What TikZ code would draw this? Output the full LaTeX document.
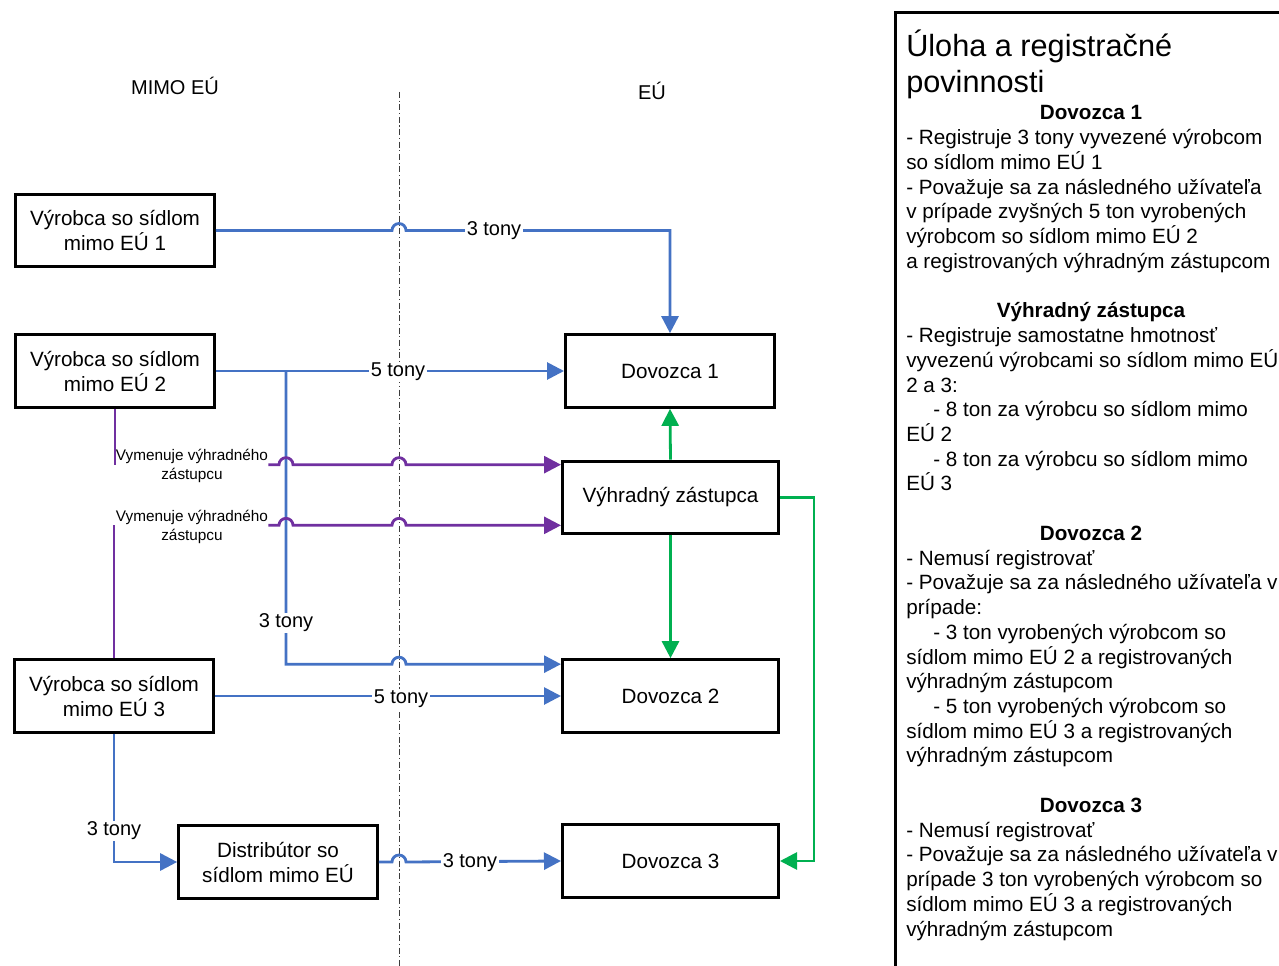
\documentclass[tikz,border=0pt]{standalone}
\usepackage{fontspec}
\setmainfont{Liberation Sans}
\usetikzlibrary{arrows.meta,calc}

\definecolor{flowblue}{RGB}{68,114,196}
\definecolor{flowpurple}{RGB}{112,48,160}
\definecolor{flowgreen}{RGB}{0,176,80}
\definecolor{divgray}{RGB}{60,60,60}

\tikzset{
  box/.style={draw=black, line width=2.25pt, fill=white, align=center, inner sep=0pt,
              minimum height=54.5pt, font=\fontsize{15.5}{18.75}\selectfont},
  leftbox/.style={box, minimum width=149pt},
  rightbox/.style={box, minimum width=162pt},
  tip/.style={-{Triangle[length=12.75pt,width=12.75pt]}},
  blueflow/.style={draw=flowblue, line width=2.1pt},
  purpleflow/.style={draw=flowpurple, line width=2.1pt},
  greenflow/.style={draw=flowgreen, line width=2.1pt},
  divider/.style={draw=divgray, line width=0.75pt, dash pattern=on 4.5pt off 2pt on 0.8pt off 2pt},
  tlabel/.style={fill=white, inner sep=1pt, font=\fontsize{15}{18}\selectfont},
  plabel/.style={inner sep=0pt, align=center, font=\fontsize{11.5}{14.25}\selectfont},
  region/.style={font=\fontsize{15}{18}\selectfont},
  body/.style={anchor=base west, inner sep=0pt, font=\fontsize{15.5}{18.5}\selectfont},
  head/.style={anchor=base, inner sep=0pt, font=\fontsize{15.5}{18.5}\selectfont\bfseries},
  title/.style={anchor=base west, inner sep=0pt, font=\fontsize{23}{27.75}\selectfont},
}

\begin{document}
\begin{tikzpicture}[x=0.75pt,y=-0.75pt]
  \fill[white] (0,0) rectangle (1279,966);
  \useasboundingbox (0,0) rectangle (1279,966);

  % region titles and the border between them
  \node[region] (mimo) at (175,86) {MIMO EÚ};
  \node[region] (eu) at (652,91) {EÚ};
  \coordinate (dl) at (399,92);
  \coordinate (dlend) at (399,966);
  \draw[divider] (dl) -- (dlend);

  % actors
  \node[leftbox] (v1) at (115,230.5) {Výrobca so sídlom\\mimo EÚ 1};
  \node[leftbox] (v2) at (115,371) {Výrobca so sídlom\\mimo EÚ 2};
  \node[leftbox] (v3) at (114,696) {Výrobca so sídlom\\mimo EÚ 3};
  \node[leftbox] (dist) at (278,862) {Distribútor so\\sídlom mimo EÚ};
  \node[box, minimum width=156.75pt] (d1) at (670,371) {Dovozca 1};
  \node[rightbox] (vz) at (670.5,497.5) {Výhradný zástupca};
  \node[rightbox] (d2) at (670.5,696) {Dovozca 2};
  \node[rightbox] (d3) at (670.5,861) {Dovozca 3};

  % helper points
  \coordinate (j) at (286,371);
  \coordinate (d2in) at ($(d2.north west)+(0,6)$);
  \coordinate (pa) at ($(vz.north west)+(0,5)$);
  \coordinate (pb) at ($(vz.south west)+(0,-10)$);
  \coordinate (gx) at (814,0);

  % blue flows of tonnage
  \draw[blueflow, tip] (v1.east) -- ($(dl |- v1.east)+(-7,0)$)
      arc[start angle=180,end angle=0,radius=5.25pt]
      -- (v1.east -| d1.north) -- (d1.north);
  \draw[blueflow, tip] (v2.east) -- (d1.west);
  \draw[blueflow, tip] (j) -- (j |- d2in) -- ($(dl |- d2in)+(-7,0)$)
      arc[start angle=180,end angle=0,radius=5.25pt] -- (d2in);
  \draw[blueflow, tip] (v3.east) -- (d2.west);
  \draw[blueflow, tip] (v3.south) |- (dist.west);
  \draw[blueflow, tip] (dist.east) -- ($(dl |- dist.east)+(-7,0)$)
      arc[start angle=180,end angle=0,radius=5.25pt] -- (d3.west);

  \node[tlabel] (t1) at (494,231) {3 tony};
  \node[tlabel] (t2) at (398,372) {5 tony};
  \node[tlabel] (t3) at (286,623) {3 tony};
  \node[tlabel] (t4) at (401,699) {5 tony};
  \node[tlabel] (t5) at (114,831) {3 tony};
  \node[tlabel] (t6) at (470,863) {3 tony};

  % purple appointments of the only representative
  \node[plabel] (lab1) at (192,466) {Vymenuje výhradného\\zástupcu};
  \node[plabel] (lab2) at (192,527) {Vymenuje výhradného\\zástupcu};
  \draw[purpleflow] (v2.south) -- (v2.south |- pa);
  \draw[purpleflow, tip] (lab1.east |- pa) -- ($(j |- pa)+(-7,0)$)
      arc[start angle=180,end angle=0,radius=5.25pt]
      -- ($(dl |- pa)+(-7,0)$)
      arc[start angle=180,end angle=0,radius=5.25pt] -- (pa);
  \draw[purpleflow] (v3.north) -- (v3.north |- pb);
  \draw[purpleflow, tip] (lab2.east |- pb) -- ($(j |- pb)+(-7,0)$)
      arc[start angle=180,end angle=0,radius=5.25pt]
      -- ($(dl |- pb)+(-7,0)$)
      arc[start angle=180,end angle=0,radius=5.25pt] -- (pb);

  % green registrations
  \draw[greenflow, tip] (vz.north) -- (d1.south);
  \draw[greenflow, tip] (vz.south) -- (d2.north);
  \draw[greenflow, tip] (vz.east) -- (vz.east -| gx) -- (gx |- d3.east) -- (d3.east);

  % side panel with duties
  \draw[line width=2.25pt] (895.5,966) -- (895.5,12.5) -- (1279,12.5);
  \node[title] (ttl1) at (906,57) {Úloha a registračné};
  \node[title] (ttl2) at (906,93) {povinnosti};

  \node[head] (h1) at (1091,120) {Dovozca 1};
  \node[head] (h2) at (1091,317.8) {Výhradný zástupca};
  \node[head] (h3) at (1091,540.4) {Dovozca 2};
  \node[head] (h4) at (1091,812.4) {Dovozca 3};

  \foreach \i/\t in {
    1/{- Registruje 3 tony vyvezené výrobcom},
    2/{so sídlom mimo EÚ 1},
    3/{- Považuje sa za následného užívateľa},
    4/{v prípade zvyšných 5 ton vyrobených},
    5/{výrobcom so sídlom mimo EÚ 2},
    6/{a registrovaných výhradným zástupcom},
    9/{- Registruje samostatne hmotnosť},
    10/{vyvezenú výrobcami so sídlom mimo EÚ},
    11/{2 a 3:},
    12/{\hspace*{20.25pt}- 8 ton za výrobcu so sídlom mimo},
    13/{EÚ 2},
    14/{\hspace*{20.25pt}- 8 ton za výrobcu so sídlom mimo},
    15/{EÚ 3},
    18/{- Nemusí registrovať},
    19/{- Považuje sa za následného užívateľa v},
    20/{prípade:},
    21/{\hspace*{20.25pt}- 3 ton vyrobených výrobcom so},
    22/{sídlom mimo EÚ 2 a registrovaných},
    23/{výhradným zástupcom},
    24/{\hspace*{20.25pt}- 5 ton vyrobených výrobcom so},
    25/{sídlom mimo EÚ 3 a registrovaných},
    26/{výhradným zástupcom},
    29/{- Nemusí registrovať},
    30/{- Považuje sa za následného užívateľa v},
    31/{prípade 3 ton vyrobených výrobcom so},
    32/{sídlom mimo EÚ 3 a registrovaných},
    33/{výhradným zástupcom}}
    \node[body] (p\i) at (906,{120+24.73*\i}) {\t};
\end{tikzpicture}
\end{document}
